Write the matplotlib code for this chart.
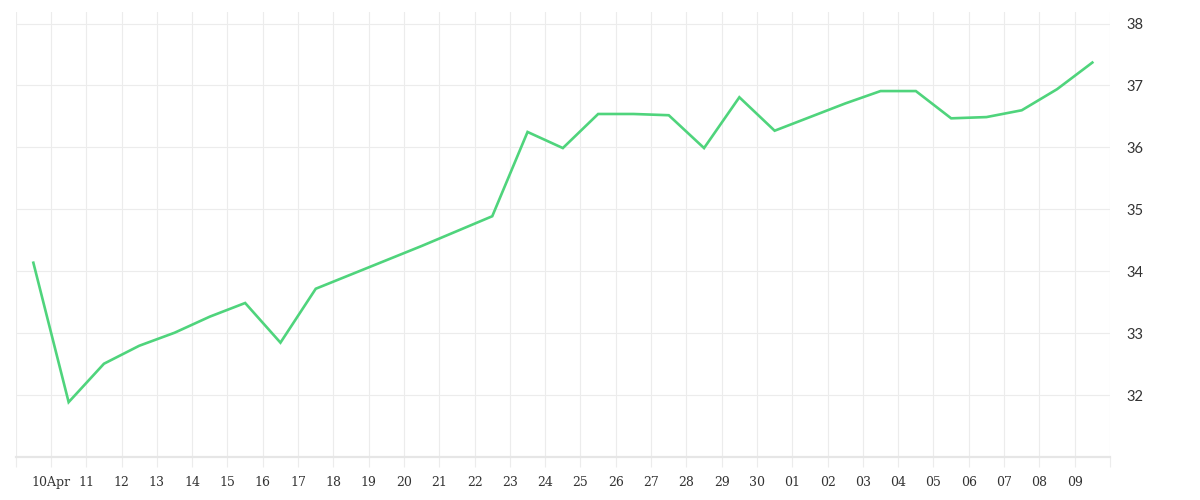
import matplotlib
matplotlib.use("Agg")
import matplotlib.pyplot as plt
import matplotlib.dates as mdates
import pandas as pd

# Data: one value per day, plotted at midday
dates = pd.date_range("2024-04-09 12:00", "2024-05-09 12:00", freq="D")
values = [34.14, 31.89, 32.51, 32.80, 33.01, 33.27, 33.49, 32.85, 33.72,
          33.95, 34.18, 34.41, 34.65, 34.89,
          36.25, 35.99, 36.54, 36.54, 36.52, 35.99, 36.81, 36.27,
          36.49, 36.71, 36.91, 36.91, 36.47, 36.49, 36.60, 36.94, 37.37]

tick_days = pd.date_range("2024-04-09", "2024-05-10", freq="D")
tick_labels = [""] + ["10Apr"] + [d.strftime("%d") for d in tick_days[2:-1]] + [""]
y_ticks = [32, 33, 34, 35, 36, 37, 38]

W, H = 1200, 500
fig = plt.figure(figsize=(12, 5), dpi=100)
left, right, top, bottom = 15.7, 1110, 12, 457.3
ax = fig.add_axes([left / W, 1 - bottom / H, (right - left) / W, (bottom - top) / H])

grid_c = "#ececec"
ax.plot(dates, values, color="#4fd47c", lw=1.9, solid_joinstyle="miter", zorder=3)

ax.set_xlim(tick_days[0], tick_days[-1])
ax.set_ylim(31, 31 + (bottom - top) / 61.97)

ax.set_xticks(tick_days)
ax.set_xticklabels(tick_labels, family="DejaVu Serif", fontsize=9, color="#333333")
ax.set_yticks(y_ticks)
ax.set_yticklabels([str(v) for v in y_ticks], family="Lato", fontsize=10.5, color="#333333")
ax.yaxis.tick_right()
ax.tick_params(axis="y", length=0, pad=12)
ax.tick_params(axis="x", length=7.5, width=0.8, color=grid_c, pad=6)

ax.grid(True, color=grid_c, lw=0.8, zorder=0)
for s in ["top", "left", "right"]:
    ax.spines[s].set_visible(False)
ax.spines["bottom"].set_color("#e6e6e6")
ax.spines["bottom"].set_linewidth(1.6)

fig.savefig("out.png", dpi=100, facecolor="white")
